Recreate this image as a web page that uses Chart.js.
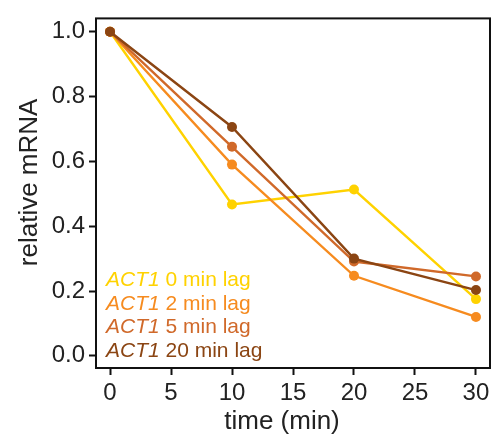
<!DOCTYPE html>
<html>
<head>
<meta charset="utf-8">
<script src="https://cdn.jsdelivr.net/npm/chart.js@4.4.1/dist/chart.umd.min.js"></script>
<style>
  html, body { margin: 0; padding: 0; background: #fff; }
  #wrap { width: 496px; height: 442px; }
</style>
</head>
<body>
<div id="wrap"><canvas id="myChart" width="496" height="442"></canvas></div>
<script>
// Time points (min) and relative mRNA for each lag
const timePoints = [0, 10, 20, 30];
const lag0 = [1.0, 0.467, 0.513, 0.175];
const lag2 = [1.0, 0.59, 0.247, 0.12];
const lag5 = [1.0, 0.645, 0.291, 0.245];
const lag20 = [1.0, 0.706, 0.3, 0.203];

const geneName = "ACT1";
const seriesNames = ["0 min lag", "2 min lag", "5 min lag", "20 min lag"];
const seriesValues = [lag0, lag2, lag5, lag20];
const seriesColors = ["#FFD200", "#F68B1F", "#D0692A", "#8B4513"];

const xTicks = [0, 5, 10, 15, 20, 25, 30];
const yTicks = [0, 0.2, 0.4, 0.6, 0.8, 1.0];
const xTitle = "time (min)";
const yTitle = "relative mRNA";

const FONT = "'Liberation Sans', Arial, Helvetica, sans-serif";
const ctx = document.getElementById("myChart");

// Black frame round the plot area
const boxPlugin = {
  id: "box",
  afterDraw: (chart) => {
    const { ctx, chartArea } = chart;
    ctx.save();
    ctx.strokeStyle = "#111";
    ctx.lineWidth = 2;
    ctx.strokeRect(chartArea.left, chartArea.top, chartArea.right - chartArea.left, chartArea.bottom - chartArea.top);
    ctx.restore();
  },
};

// Axis titles, placed a little off-centre like the original figure
const axisTitles = {
  id: "axisTitles",
  afterDraw: (chart) => {
    const { ctx, chartArea } = chart;
    ctx.save();
    ctx.fillStyle = "#222";
    ctx.font = `26px ${FONT}`;
    ctx.textAlign = "center";
    ctx.textBaseline = "alphabetic";
    ctx.fillText(xTitle, chartArea.left + 186, chartArea.bottom + 61);

    ctx.translate(37, chartArea.top + 164);
    ctx.rotate(-Math.PI / 2);
    ctx.fillText(yTitle, 0, 0);
    ctx.restore();
  },
};

// Legend inside the plot, gene name in italics
const textLegend = {
  id: "textLegend",
  afterDatasetsDraw: (chart) => {
    const { ctx, chartArea } = chart;
    const x = chartArea.left + 10;
    const lineGap = 23.7;
    const firstBaseline = chartArea.bottom - 82;

    ctx.save();
    ctx.textBaseline = "alphabetic";
    ctx.textAlign = "left";
    seriesNames.forEach((name, i) => {
      const y = firstBaseline + i * lineGap;
      ctx.fillStyle = seriesColors[i];
      ctx.font = `italic 21px ${FONT}`;
      ctx.fillText(geneName, x, y);
      const w = ctx.measureText(geneName + " ").width;
      ctx.font = `21px ${FONT}`;
      ctx.fillText(name, x + w, y);
    });
    ctx.restore();
  },
};

const datasets = seriesValues.map((values, i) => ({
  label: `${geneName} ${seriesNames[i]}`,
  data: timePoints.map((t, j) => ({ x: t, y: values[j] })),
  borderColor: seriesColors[i],
  backgroundColor: seriesColors[i],
  pointBackgroundColor: seriesColors[i],
  pointBorderWidth: 0,
  pointRadius: 5,
  borderWidth: 2.4,
  tension: 0,
  // later series sit on top
  order: seriesValues.length - i,
}));

const tickStyle = {
  display: true,
  drawOnChartArea: false,
  drawTicks: true,
  tickLength: 7,
  tickWidth: 2,
  tickColor: "#111",
};

new Chart(ctx, {
  type: "line",
  data: { datasets },
  plugins: [boxPlugin, textLegend, axisTitles],
  options: {
    responsive: false,
    animation: false,
    layout: { padding: { top: 15, right: 6, left: 0, bottom: 0 } },
    plugins: {
      legend: { display: false },
      tooltip: { enabled: false },
    },
    scales: {
      x: {
        type: "linear",
        min: -1.15,
        max: 31.15,
        grid: tickStyle,
        border: { display: false },
        afterBuildTicks: (scale) => {
          scale.ticks = xTicks.map((v) => ({ value: v }));
        },
        afterFit: (scale) => {
          scale.height = 74;
        },
        ticks: {
          color: "#222",
          padding: 4,
          maxRotation: 0,
          font: { family: FONT, size: 24 },
          callback: (value) => `${value}`,
        },
      },
      y: {
        min: -0.0375,
        max: 1.041,
        grid: tickStyle,
        border: { display: false },
        afterBuildTicks: (scale) => {
          scale.ticks = yTicks.map((v) => ({ value: v }));
        },
        afterFit: (scale) => {
          scale.width = 96;
        },
        ticks: {
          color: "#222",
          padding: 4,
          font: { family: FONT, size: 24 },
          callback: (value) => Number(value).toFixed(1),
        },
      },
    },
  },
});
</script>
</body>
</html>
